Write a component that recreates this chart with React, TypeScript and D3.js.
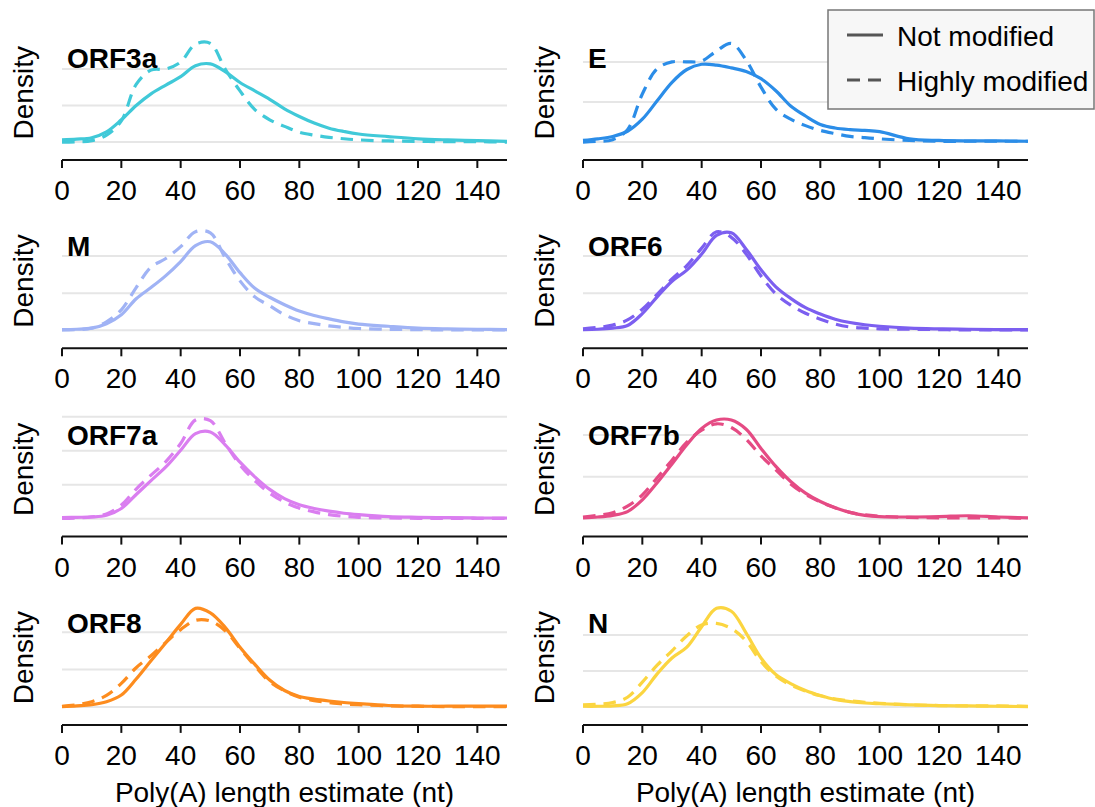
import React from "react";
import * as d3 from "d3";

// Poly(A) length grid (nt) on which densities were read
const lengthGrid = [0, 5, 10, 15, 20, 25, 30, 35, 40, 45, 50, 55, 60, 65, 70, 75, 80, 85, 90, 95, 100, 110, 120, 130, 140, 150];
const xTicks = [0, 20, 40, 60, 80, 100, 120, 140];
const densityGridTicks = [0, 0.01, 0.02, 0.03];

const genes = ["ORF3a", "E", "M", "ORF6", "ORF7a", "ORF7b", "ORF8", "N"];
const geneColors = ["#40c9d8", "#2b8de8", "#a0b3f5", "#7c5ff0", "#da7ef0", "#e54b84", "#fd8c1e", "#fbd540"];

const orf3aSolid = [0.0006, 0.0008, 0.0012, 0.0028, 0.0061, 0.0100, 0.0132, 0.0156, 0.0179, 0.0209, 0.0214, 0.0193, 0.0163, 0.0140, 0.0117, 0.0091, 0.0070, 0.0052, 0.0038, 0.0029, 0.0022, 0.0015, 0.0009, 0.0006, 0.0004, 0.0002];
const orf3aDashed = [0.0, 0.0001, 0.0004, 0.0019, 0.0058, 0.0158, 0.0197, 0.0200, 0.0219, 0.0268, 0.0270, 0.0200, 0.0140, 0.0089, 0.0061, 0.0043, 0.0027, 0.0019, 0.0013, 0.0009, 0.0006, 0.0003, 0.0002, 0.0001, 0.0001, 0.0];
const eSolid = [0.0004, 0.0008, 0.0014, 0.0027, 0.0057, 0.0103, 0.0149, 0.0181, 0.0194, 0.0192, 0.0185, 0.0176, 0.0158, 0.0128, 0.0090, 0.0065, 0.0044, 0.0035, 0.0031, 0.0029, 0.0026, 0.0008, 0.0004, 0.0003, 0.0003, 0.0002];
const eDashed = [0.0, 0.0002, 0.0006, 0.0031, 0.0120, 0.0183, 0.0200, 0.0200, 0.0202, 0.0227, 0.0246, 0.0204, 0.0137, 0.0082, 0.0057, 0.0041, 0.0029, 0.0021, 0.0014, 0.0011, 0.0008, 0.0004, 0.0002, 0.0002, 0.0002, 0.0002];
const mSolid = [0.0002, 0.0003, 0.0006, 0.0018, 0.0042, 0.0085, 0.0115, 0.0147, 0.0185, 0.0228, 0.0238, 0.0205, 0.0155, 0.0113, 0.0089, 0.0069, 0.0052, 0.0040, 0.0031, 0.0023, 0.0017, 0.0011, 0.0006, 0.0004, 0.0003, 0.0002];
const mDashed = [0.0001, 0.0002, 0.0006, 0.0023, 0.0055, 0.0115, 0.0170, 0.0193, 0.0225, 0.0265, 0.0262, 0.0195, 0.0133, 0.0090, 0.0066, 0.0042, 0.0026, 0.0018, 0.0012, 0.0008, 0.0005, 0.0003, 0.0002, 0.0001, 0.0001, 0.0001];
const orf6Solid = [0.0002, 0.0003, 0.0006, 0.0013, 0.0045, 0.0090, 0.0132, 0.0162, 0.0205, 0.0255, 0.0262, 0.0218, 0.0163, 0.0117, 0.0086, 0.0061, 0.0044, 0.0030, 0.0021, 0.0015, 0.0011, 0.0006, 0.0004, 0.0003, 0.0002, 0.0002];
const orf6Dashed = [0.0004, 0.0008, 0.0014, 0.0028, 0.0057, 0.0097, 0.0138, 0.0174, 0.0221, 0.0265, 0.0250, 0.0205, 0.0146, 0.0098, 0.0068, 0.0046, 0.0030, 0.0017, 0.0009, 0.0006, 0.0004, 0.0003, 0.0002, 0.0001, 0.0001, 0.0001];
const orf7aSolid = [0.0003, 0.0004, 0.0005, 0.0010, 0.0030, 0.0071, 0.0112, 0.0152, 0.0201, 0.0250, 0.0255, 0.0217, 0.0166, 0.0123, 0.0086, 0.0059, 0.0041, 0.0030, 0.0022, 0.0016, 0.0012, 0.0006, 0.0004, 0.0003, 0.0002, 0.0002];
const orf7aDashed = [0.0001, 0.0002, 0.0005, 0.0014, 0.0040, 0.0087, 0.0128, 0.0168, 0.0221, 0.0290, 0.0288, 0.0222, 0.0158, 0.0112, 0.0075, 0.0049, 0.0031, 0.0020, 0.0012, 0.0007, 0.0004, 0.0002, 0.0001, 0.0001, 0.0001, 0.0001];
const orf7bSolid = [0.0002, 0.0004, 0.0008, 0.0017, 0.0045, 0.0086, 0.0131, 0.0177, 0.0216, 0.0236, 0.0236, 0.0214, 0.0168, 0.0125, 0.0089, 0.0061, 0.0041, 0.0026, 0.0015, 0.0008, 0.0005, 0.0004, 0.0005, 0.0007, 0.0004, 0.0002];
const orf7bDashed = [0.0004, 0.0008, 0.0014, 0.0030, 0.0057, 0.0098, 0.0140, 0.0183, 0.0212, 0.0227, 0.0218, 0.0190, 0.0150, 0.0117, 0.0083, 0.0058, 0.0040, 0.0026, 0.0015, 0.0009, 0.0006, 0.0003, 0.0002, 0.0002, 0.0002, 0.0001];
const orf8Solid = [0.0001, 0.0003, 0.0006, 0.0014, 0.0032, 0.0075, 0.0124, 0.0172, 0.0221, 0.0264, 0.0252, 0.0213, 0.0160, 0.0114, 0.0072, 0.0044, 0.0028, 0.0021, 0.0016, 0.0012, 0.0009, 0.0004, 0.0002, 0.0002, 0.0002, 0.0002];
const orf8Dashed = [0.0002, 0.0006, 0.0014, 0.0031, 0.0063, 0.0105, 0.0137, 0.0173, 0.0207, 0.0232, 0.0230, 0.0204, 0.0157, 0.0110, 0.0068, 0.0043, 0.0026, 0.0017, 0.0012, 0.0008, 0.0006, 0.0003, 0.0002, 0.0001, 0.0001, 0.0001];
const nSolid = [0.0002, 0.0002, 0.0003, 0.0009, 0.0040, 0.0092, 0.0136, 0.0166, 0.0223, 0.0274, 0.0266, 0.0205, 0.0136, 0.0090, 0.0065, 0.0046, 0.0032, 0.0021, 0.0015, 0.0011, 0.0009, 0.0006, 0.0004, 0.0003, 0.0002, 0.0001];
const nDashed = [0.0006, 0.0008, 0.0012, 0.0027, 0.0069, 0.0116, 0.0156, 0.0198, 0.0228, 0.0232, 0.0218, 0.0183, 0.0126, 0.0086, 0.0061, 0.0044, 0.0031, 0.0022, 0.0017, 0.0013, 0.0010, 0.0006, 0.0004, 0.0003, 0.0003, 0.0002];

const notModifiedSeries = [orf3aSolid, eSolid, mSolid, orf6Solid, orf7aSolid, orf7bSolid, orf8Solid, nSolid];
const highlyModifiedSeries = [orf3aDashed, eDashed, mDashed, orf6Dashed, orf7aDashed, orf7bDashed, orf8Dashed, nDashed];
const legendLabels = ["Not modified", "Highly modified"];

const W = 1095;
const H = 807;
const FONT = "'Liberation Sans', Arial, sans-serif";
const colLeft = [62, 583];
const plotW = 445;
const plotH = 108.5;
const rowTop0 = 38.5;
const rowPitch = 188.3;
const spineOffset = 13;
const DASH = "12.5,8";

function Panel({ idx }: { idx: number }) {
  const col = idx % 2;
  const row = Math.floor(idx / 2);
  const left = colLeft[col];
  const top = rowTop0 + row * rowPitch;
  const bottom = top + plotH;
  const solid = notModifiedSeries[idx];
  const dashed = highlyModifiedSeries[idx];
  const m = Math.max(d3.max(solid) as number, d3.max(dashed) as number);
  const x = d3.scaleLinear().domain([0, 150]).range([left, left + plotW]);
  const y = d3.scaleLinear().domain([-0.05 * m, 1.05 * m]).range([bottom, top]);
  const line = d3
    .line<number>()
    .x((_, i) => x(lengthGrid[i]))
    .y((d) => y(d))
    .curve(d3.curveCatmullRom.alpha(0.5));
  const axisY = bottom + spineOffset;
  const color = geneColors[idx];
  const isBottom = row === 3;
  return (
    <g>
      {densityGridTicks
        .filter((t) => t <= 1.05 * m)
        .map((t) => (
          <line key={t} x1={x(0)} x2={x(150)} y1={y(t)} y2={y(t)} stroke="#e6e6e6" strokeWidth={2} />
        ))}
      <path d={line(solid) || ""} fill="none" stroke={color} strokeWidth={3.2} strokeLinejoin="round" />
      <path d={line(dashed) || ""} fill="none" stroke={color} strokeWidth={3.2} strokeDasharray={DASH} />
      <text x={left + 5} y={top + 29.5} fontFamily={FONT} fontSize={28} fontWeight="bold" fill="#000">
        {genes[idx]}
      </text>
      <text
        transform={`translate(${left - 29},${(top + bottom) / 2}) rotate(-90)`}
        textAnchor="middle"
        fontFamily={FONT}
        fontSize={28}
        fill="#000"
      >
        Density
      </text>
      <line x1={x(0)} x2={x(150)} y1={axisY} y2={axisY} stroke="#111" strokeWidth={2} />
      {xTicks.map((t) => (
        <g key={t}>
          <line x1={x(t)} x2={x(t)} y1={axisY} y2={axisY + 8} stroke="#111" strokeWidth={2} />
          <text x={x(t)} y={axisY + 40} textAnchor="middle" fontFamily={FONT} fontSize={28} fill="#000">
            {t}
          </text>
        </g>
      ))}
      {isBottom && (
        <text x={left + plotW / 2} y={axisY + 77} textAnchor="middle" fontFamily={FONT} fontSize={28} fill="#000">
          Poly(A) length estimate (nt)
        </text>
      )}
    </g>
  );
}

export default function App() {
  return (
    <svg
      width={W}
      height={H}
      viewBox={`0 0 ${W} ${H}`}
      style={{ position: "absolute", left: 0, top: 0, background: "#fff" }}
    >
      <rect x={0} y={0} width={W} height={H} fill="#fff" />
      {genes.map((g, i) => (
        <Panel key={g} idx={i} />
      ))}
      <g>
        <rect x={828} y={10} width={266} height={99} fill="#f7f7f7" stroke="#777" strokeWidth={1.5} />
        {legendLabels.map((lab, i) => (
          <g key={lab}>
            <line
              x1={847}
              x2={883}
              y1={35 + i * 45}
              y2={35 + i * 45}
              stroke="#555"
              strokeWidth={3}
              strokeDasharray={i === 1 ? "13,8" : undefined}
            />
            <text x={897} y={45.5 + i * 45} fontFamily={FONT} fontSize={28} fill="#000">
              {lab}
            </text>
          </g>
        ))}
      </g>
    </svg>
  );
}
